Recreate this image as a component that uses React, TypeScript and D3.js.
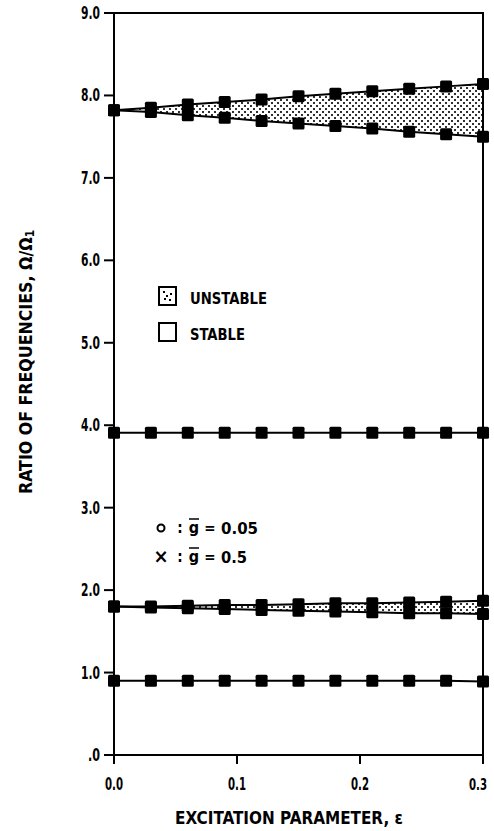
import React from 'react';
import * as d3 from 'd3';

// excitation parameter values where markers are drawn
const eps = [0, 0.03, 0.06, 0.09, 0.12, 0.15, 0.18, 0.21, 0.24, 0.27, 0.3];

// upper instability region (around 7.8)
const band1Upper = [7.82, 7.85, 7.89, 7.92, 7.95, 7.99, 8.02, 8.05, 8.08, 8.11, 8.14];
const band1Lower = [7.82, 7.8, 7.76, 7.73, 7.69, 7.66, 7.63, 7.6, 7.56, 7.53, 7.5];

// stable line around 3.9
const line2 = [3.91, 3.91, 3.91, 3.91, 3.91, 3.91, 3.91, 3.91, 3.91, 3.91, 3.91];

// lower instability region (around 1.8)
const band3Upper = [1.8, 1.8, 1.81, 1.82, 1.82, 1.83, 1.84, 1.84, 1.85, 1.86, 1.87];
const band3Lower = [1.8, 1.79, 1.78, 1.77, 1.76, 1.75, 1.74, 1.73, 1.72, 1.72, 1.71];

// stable line around 0.9
const line4 = [0.9, 0.9, 0.9, 0.9, 0.9, 0.9, 0.9, 0.9, 0.9, 0.9, 0.89];

const xTicks = [0, 0.1, 0.2, 0.3];
const yTicks = [0, 1, 2, 3, 4, 5, 6, 7, 8, 9];
const yTickLabels = ['.0', '1.0', '2.0', '3.0', '4.0', '5.0', '6.0', '7.0', '8.0', '9.0'];
const xTickLabels = ['0.0', '0.1', '0.2', '0.3'];

const FONT = "'Liberation Sans Narrow', 'DejaVu Sans Condensed', 'Arial Narrow', 'Liberation Sans', sans-serif";

const App: React.FC = () => {
    const width = 494;
    const height = 831;
    const left = 114, right = 483, top = 13, bottom = 755;

    const x = d3.scaleLinear().domain([0, 0.3]).range([left, right]);
    const y = d3.scaleLinear().domain([0, 9]).range([bottom, top]);

    const line = d3.line<number>().x((d, i) => x(eps[i])).y(d => y(d));

    const bandPath = (hi: number[], lo: number[]) =>
        d3.area<number>()
            .x((d, i) => x(eps[i]))
            .y0((d, i) => y(lo[i]))
            .y1(d => y(d))(hi) as string;

    const series = [band1Upper, band1Lower, line2, band3Upper, band3Lower, line4];
    const ms = 12;
    const dot = 1.8;

    // diamond lattice of dots with a dot in each diamond centre
    const patternDots: [number, number][] = [];
    [0, 3, 6, 9].forEach(t => {
        patternDots.push([t, t]);
        if (t !== 0 && t !== 6) patternDots.push([12 - t, t]);
    });
    patternDots.push([6, 0], [0, 6], [6, 12], [12, 6], [12, 0], [0, 12], [12, 12]);

    return (
        <svg width={width} height={height} style={{ position: 'absolute', left: 0, top: 0, background: '#fff' }}
            fontFamily={FONT} fontWeight="bold">
            <defs>
                <pattern id="dots" width={12} height={12} patternUnits="userSpaceOnUse" x={2} y={1}>
                    {patternDots.map(([px, py], i) => (
                        <rect key={i} x={px - dot / 2} y={py - dot / 2} width={dot} height={dot} fill="#000" />
                    ))}
                </pattern>
            </defs>

            {/* unstable regions */}
            <path d={bandPath(band1Upper, band1Lower)} fill="url(#dots)" />
            <path d={bandPath(band3Upper, band3Lower)} fill="url(#dots)" />

            {/* frame */}
            <rect x={left} y={top} width={right - left} height={bottom - top} fill="none" stroke="#000" strokeWidth={2} />

            {/* y ticks */}
            {yTicks.map((t, i) => (
                <g key={t}>
                    <line x1={left - 10} x2={left} y1={y(t)} y2={y(t)} stroke="#000" strokeWidth={2} />
                    <text x={100} y={y(t) + 6} textAnchor="end" fontSize={17}
                        textLength={yTickLabels[i].length === 2 ? 12 : 19} lengthAdjust="spacingAndGlyphs">{yTickLabels[i]}</text>
                </g>
            ))}

            {/* x ticks */}
            {xTicks.map((t, i) => {
                const last = i === xTicks.length - 1;
                return (
                    <g key={t}>
                        <line x1={x(t)} x2={x(t)} y1={bottom} y2={bottom + 9} stroke="#000" strokeWidth={2} />
                        <text x={last ? x(t) - 5 : x(t)} y={790} textAnchor="middle" fontSize={last ? 15 : 17}
                            textLength={18} lengthAdjust="spacingAndGlyphs">{xTickLabels[i]}</text>
                    </g>
                );
            })}

            {/* curves */}
            {series.map((s, k) => (
                <path key={k} d={line(s) as string} fill="none" stroke="#000" strokeWidth={2} />
            ))}

            {/* markers: circle and cross overlap into solid squares */}
            {series.map((s, k) => s.map((v, i) => (
                <rect key={`${k}-${i}`} x={x(eps[i]) - ms / 2} y={y(v) - ms / 2} width={ms} height={ms} rx={1.5} fill="#000" />
            )))}

            {/* legend */}
            <rect x={159} y={287} width={17} height={18} fill="#fff" stroke="#000" strokeWidth={2} />
            {[[164, 292], [171, 294], [165, 299], [170, 300], [167, 296]].map(([px, py], i) => (
                <rect key={i} x={px - 1} y={py - 1} width={2} height={2} fill="#000" />
            ))}
            <text x={190} y={304} fontSize={16} textLength={77} lengthAdjust="spacingAndGlyphs">UNSTABLE</text>
            <rect x={159} y={323} width={17} height={18} fill="#fff" stroke="#000" strokeWidth={2} />
            <text x={190} y={340} fontSize={16} textLength={55} lengthAdjust="spacingAndGlyphs">STABLE</text>

            {/* symbol key */}
            <circle cx={161} cy={528} r={3.5} fill="none" stroke="#000" strokeWidth={2} />
            <text x={180} y={533} fontSize={15} textAnchor="middle">:</text>
            <text x={194} y={533} fontSize={16} textAnchor="middle">g</text>
            <line x1={189} x2={199} y1={519} y2={519} stroke="#000" strokeWidth={1.5} />
            <text x={210} y={533} fontSize={15} textAnchor="middle">=</text>
            <text x={221} y={534} fontSize={15} textLength={37} lengthAdjust="spacingAndGlyphs">0.05</text>

            <text x={161} y={563} fontSize={20} textAnchor="middle">×</text>
            <text x={180} y={562} fontSize={15} textAnchor="middle">:</text>
            <text x={194} y={562} fontSize={16} textAnchor="middle">g</text>
            <line x1={189} x2={199} y1={548} y2={548} stroke="#000" strokeWidth={1.5} />
            <text x={210} y={562} fontSize={15} textAnchor="middle">=</text>
            <text x={221} y={563} fontSize={15} textLength={26} lengthAdjust="spacingAndGlyphs">0.5</text>

            {/* axis titles */}
            <text x={289} y={824} textAnchor="middle" fontSize={18} fontWeight={600}
                textLength={228} lengthAdjust="spacingAndGlyphs">EXCITATION  PARAMETER, ε</text>
            <text transform="translate(32,362) rotate(-90)" textAnchor="middle" fontSize={18} fontWeight={600}
                textLength={264} lengthAdjust="spacingAndGlyphs">
                RATIO  OF  FREQUENCIES, Ω/Ω<tspan fontSize={12} dy={2}>1</tspan>
            </text>
        </svg>
    );
};

export default App;
